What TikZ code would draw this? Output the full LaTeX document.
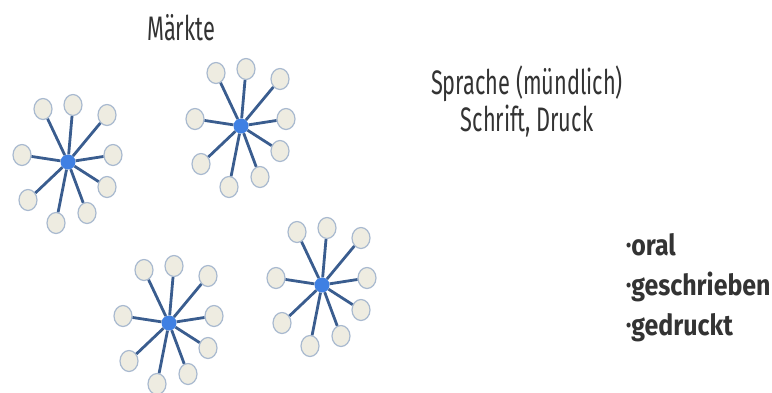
\documentclass[tikz,border=0pt]{standalone}
\usepackage{fontspec}
\setmainfont[FakeStretch=0.64]{Fira Sans}
\newfontfamily\listfont[FakeStretch=0.86]{Fira Sans}
\usepackage{graphicx}
\usepackage{xcolor}
\usepackage{tikz}
\usetikzlibrary{
  shapes.geometric,
  calc
}
\definecolor{hubblue}{HTML}{3F80E3}
\definecolor{spokeblue}{HTML}{3A5D8F}
\definecolor{satfill}{HTML}{EEECE1}
\definecolor{satline}{HTML}{A8B9CF}
\definecolor{textgrey}{HTML}{333333}
\newcommand{\punkt}{\raisebox{0.25ex}{\scalebox{0.6}{\textbullet}}}
\tikzset{
  hub/.style={
    circle, fill=hubblue, minimum size=15pt, inner sep=0pt
  },
  satellite/.style={
    ellipse, draw=satline, fill=satfill, line width=1.2pt,
    minimum width=18pt, minimum height=21pt, inner sep=0pt
  },
  spokeline/.style={
    line width=2.8pt, color=spokeblue
  },
  textlabel/.style={
    inner sep=0pt, text=textgrey, font=\fontsize{34}{37}\selectfont
  },
}
\begin{document}
\begin{tikzpicture}[x=1pt,y=-1pt]
  \useasboundingbox (0,0) rectangle (772,392);

  %% Market hubs
  \node[hub] (m1) at (68,162) {};
  \node[hub] (m2) at (241,126) {};
  \node[hub] (m3) at (169,323) {};
  \node[hub] (m4) at (322,285) {};

  %% Satellites and spokes round each hub
  \foreach \m in {m1,m2,m3,m4}{
    \foreach \dx/\dy [count=\i] in {-25/-53, 5/-57, 39/-47, -46/-7, 45/-7,
                                    39/25, -40/38, -12/61, 19/51}{
      \node[satellite] (\m-\i) at ($(\m)+(\dx,\dy)$) {};
      \draw[spokeline] (\m) -- (\m-\i);
    }
  }

  %% Texts
  \node[textlabel, anchor=base] (maerkte) at (181,40) {Märkte};
  \node[textlabel, align=center, anchor=north] (medien) at (527,66)
    {Sprache (mündlich)\\Schrift, Druck};
  \node[textlabel, align=left, anchor=north west,
        font=\fontsize{29}{40}\selectfont\listfont\bfseries] (formen) at (626,233)
    {\punkt oral\\\punkt geschrieben\\\punkt gedruckt};

\end{tikzpicture}
\end{document}
